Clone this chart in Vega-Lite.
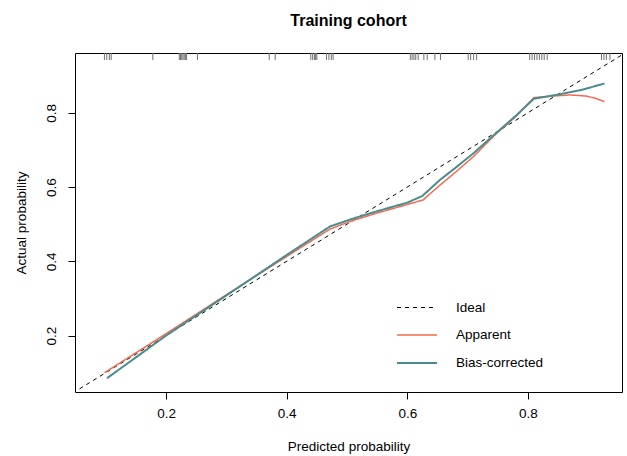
{
  "$schema": "https://vega.github.io/schema/vega-lite/v6.json",
  "width": 547,
  "height": 339,
  "autosize": "none",
  "padding": {"left": 75, "top": 53, "right": 5, "bottom": 64},
  "title": {"text": "Training cohort", "font": "Liberation Sans", "fontSize": 16, "fontWeight": "bold", "anchor": "middle", "baseline": "bottom", "offset": 8, "color": "#000"},
  "config": {
    "font": "Liberation Sans",
    "view": {"stroke": "#000", "strokeWidth": 1},
    "axis": {"grid": false, "domain": false, "tickColor": "#000", "tickSize": 7, "labelColor": "#000", "labelFontSize": 13.5, "titleFontSize": 13.5, "titleFontWeight": "normal", "titleColor": "#000", "labelFont": "Liberation Sans", "titleFont": "Liberation Sans"}
  },
  "datasets": {
    "curves": [
      {"series": "Ideal", "x": 0, "y": 0},
      {"series": "Ideal", "x": 1, "y": 1},
      {"series": "Apparent", "x": 0.098, "y": 0.100},
      {"series": "Apparent", "x": 0.20, "y": 0.205},
      {"series": "Apparent", "x": 0.30, "y": 0.310},
      {"series": "Apparent", "x": 0.40, "y": 0.413},
      {"series": "Apparent", "x": 0.472, "y": 0.487},
      {"series": "Apparent", "x": 0.51, "y": 0.510},
      {"series": "Apparent", "x": 0.55, "y": 0.530},
      {"series": "Apparent", "x": 0.60, "y": 0.553},
      {"series": "Apparent", "x": 0.626, "y": 0.565},
      {"series": "Apparent", "x": 0.654, "y": 0.605},
      {"series": "Apparent", "x": 0.68, "y": 0.640},
      {"series": "Apparent", "x": 0.709, "y": 0.681},
      {"series": "Apparent", "x": 0.745, "y": 0.740},
      {"series": "Apparent", "x": 0.78, "y": 0.790},
      {"series": "Apparent", "x": 0.81, "y": 0.841},
      {"series": "Apparent", "x": 0.84, "y": 0.845},
      {"series": "Apparent", "x": 0.87, "y": 0.848},
      {"series": "Apparent", "x": 0.897, "y": 0.845},
      {"series": "Apparent", "x": 0.912, "y": 0.839},
      {"series": "Apparent", "x": 0.927, "y": 0.830},
      {"series": "Bias-corrected", "x": 0.102, "y": 0.085},
      {"series": "Bias-corrected", "x": 0.20, "y": 0.200},
      {"series": "Bias-corrected", "x": 0.30, "y": 0.308},
      {"series": "Bias-corrected", "x": 0.40, "y": 0.417},
      {"series": "Bias-corrected", "x": 0.472, "y": 0.494},
      {"series": "Bias-corrected", "x": 0.51, "y": 0.515},
      {"series": "Bias-corrected", "x": 0.55, "y": 0.535},
      {"series": "Bias-corrected", "x": 0.60, "y": 0.558},
      {"series": "Bias-corrected", "x": 0.625, "y": 0.576},
      {"series": "Bias-corrected", "x": 0.654, "y": 0.619},
      {"series": "Bias-corrected", "x": 0.68, "y": 0.652},
      {"series": "Bias-corrected", "x": 0.709, "y": 0.690},
      {"series": "Bias-corrected", "x": 0.745, "y": 0.742},
      {"series": "Bias-corrected", "x": 0.78, "y": 0.792},
      {"series": "Bias-corrected", "x": 0.81, "y": 0.838},
      {"series": "Bias-corrected", "x": 0.85, "y": 0.849},
      {"series": "Bias-corrected", "x": 0.89, "y": 0.862},
      {"series": "Bias-corrected", "x": 0.927, "y": 0.879}
    ],
    "rug": [
      {"pred": 0.0978}, {"pred": 0.1017}, {"pred": 0.106}, {"pred": 0.109},
      {"pred": 0.178},
      {"pred": 0.222}, {"pred": 0.224}, {"pred": 0.226}, {"pred": 0.228}, {"pred": 0.230}, {"pred": 0.232}, {"pred": 0.234},
      {"pred": 0.252},
      {"pred": 0.371}, {"pred": 0.381},
      {"pred": 0.440}, {"pred": 0.443}, {"pred": 0.446}, {"pred": 0.448}, {"pred": 0.450},
      {"pred": 0.466}, {"pred": 0.470}, {"pred": 0.474}, {"pred": 0.477},
      {"pred": 0.605}, {"pred": 0.608}, {"pred": 0.611}, {"pred": 0.614}, {"pred": 0.618},
      {"pred": 0.6275}, {"pred": 0.633}, {"pred": 0.6457}, {"pred": 0.655},
      {"pred": 0.701}, {"pred": 0.705}, {"pred": 0.710}, {"pred": 0.715},
      {"pred": 0.803}, {"pred": 0.807}, {"pred": 0.811}, {"pred": 0.815}, {"pred": 0.819}, {"pred": 0.823}, {"pred": 0.827}, {"pred": 0.832},
      {"pred": 0.922}, {"pred": 0.926}, {"pred": 0.930}, {"pred": 0.936}
    ]
  },
  "layer": [
    {
      "data": {"name": "rug"},
      "mark": {"type": "rule", "color": "#707070", "strokeWidth": 1},
      "encoding": {
        "x": {"field": "pred", "type": "quantitative", "scale": {"domain": [0.049, 0.956], "nice": false, "zero": false}, "axis": {"values": [0.2, 0.4, 0.6, 0.8], "format": ".1f", "title": "Predicted probability", "labelPadding": 7, "titlePadding": 20}},
        "y": {"datum": 0.961, "type": "quantitative", "scale": {"domain": [0.048, 0.961], "nice": false, "zero": false}, "axis": {"values": [0.2, 0.4, 0.6, 0.8], "format": ".1f", "title": "Actual probability", "labelAngle": -90, "labelAlign": "center", "labelBaseline": "bottom", "labelPadding": 10, "titlePadding": 16}},
        "y2": {"datum": 0.942}
      }
    },
    {
      "data": {"name": "curves"},
      "mark": {"type": "line", "clip": true},
      "encoding": {
        "x": {"field": "x", "type": "quantitative"},
        "y": {"field": "y", "type": "quantitative"},
        "color": {"field": "series", "type": "nominal", "scale": {"domain": ["Ideal", "Apparent", "Bias-corrected"], "range": ["#000000", "#F26B4F", "#4A8C8E"]},
          "legend": {"title": null, "orient": "none", "legendX": 321, "legendY": 234, "symbolType": "stroke", "symbolSize": 1600, "symbolStrokeWidth": 1.5, "labelFontSize": 13.5, "labelColor": "#000", "labelFont": "Liberation Sans", "labelOffset": 18, "rowPadding": -16, "padding": 0}},
        "strokeDash": {"field": "series", "type": "nominal", "scale": {"domain": ["Ideal", "Apparent", "Bias-corrected"], "range": [[4, 4], [1, 0], [1, 0]]},
          "legend": {"title": null, "orient": "none", "legendX": 321, "legendY": 234, "symbolType": "stroke", "symbolSize": 1600, "symbolStrokeWidth": 1.5, "labelFontSize": 13.5, "labelColor": "#000", "labelFont": "Liberation Sans", "labelOffset": 18, "rowPadding": -16, "padding": 0}},
        "strokeWidth": {"field": "series", "type": "nominal", "scale": {"domain": ["Ideal", "Apparent", "Bias-corrected"], "range": [1, 2, 2]}, "legend": null}
      }
    }
  ]
}
